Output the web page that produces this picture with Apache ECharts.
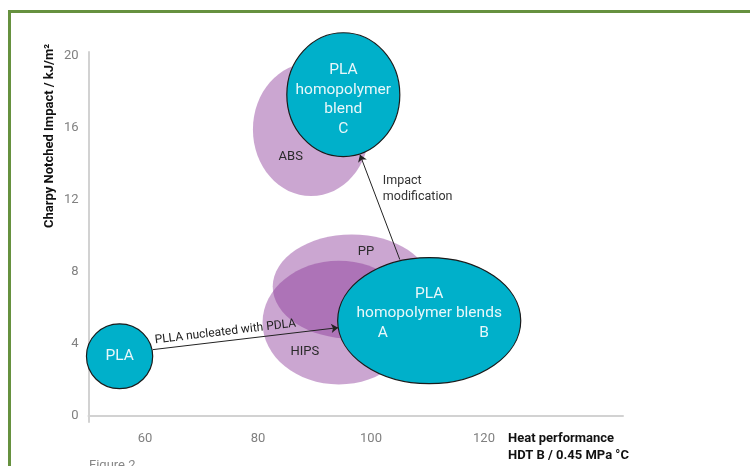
<!DOCTYPE html>
<html>
<head>
<meta charset="utf-8">
<script src="https://cdn.jsdelivr.net/npm/echarts@6/dist/echarts.min.js"></script>
<style>html,body{margin:0;padding:0;background:#fff}#c{width:750px;height:466px}</style>
</head>
<body>
<div id="c"></div>
<script>
// Reference materials (purple)
const materials = ['ABS', 'PP', 'HIPS'];
const matHeat = [89.4, 96.6, 94.3];
const matImpact = [15.9, 7.17, 5.17];
const matSpreadHeat = [10.3, 14.0, 13.5];
const matSpreadImpact = [3.7, 2.9, 3.44];
const matLabelHeat = [85.8, 99.1, 88.3];
const matLabelImpact = [14.4, 9.1, 3.56];

// PLA grades (teal)
const plaGrades = ['PLA', 'PLA\nhomopolymer blends', 'PLA\nhomopolymer\nblend\nC'];
const plaHeat = [55.5, 110.3, 95.1];
const plaImpact = [3.3, 5.28, 17.83];
const plaSpreadHeat = [5.86, 16.2, 10.0];
const plaSpreadImpact = [1.8, 3.5, 3.44];
const plaLabelHeat = [55.5, 110.3, 95.1];
const plaLabelImpact = [3.3, 6.22, 17.55];

// Extra grade letters inside blends ellipse
const gradeLetters = ['A', 'B'];
const letterHeat = [102.1, 120.0];
const letterImpact = [4.6, 4.6];

// Arrows
const arrowNames = ['PLLA nucleated with PDLA', 'Impact modification'];
const arrowFrom = [[61.4, 3.67], [105.1, 8.67]];
const arrowTo = [[94.2, 4.89], [98.05, 14.5]];
const noteHeat = [102.1];
const noteImpact = [12.6];

// Tick labels
const xTicks = [60, 80, 100, 120];
const yTicks = [0, 4, 8, 12, 16, 20];

const FONT = 'Roboto, "Noto Sans", sans-serif';
const chart = echarts.init(document.getElementById('c'));

function ellipseItem(fill, stroke) {
  return function (params, api) {
    const c = api.coord([api.value(0), api.value(1)]);
    const s = api.size([api.value(2), api.value(3)]);
    return {
      type: 'ellipse',
      shape: { cx: c[0], cy: c[1], rx: s[0], ry: s[1] },
      style: { fill: fill, stroke: stroke || null, lineWidth: stroke ? 1.2 : 0 }
    };
  };
}
function textItem(names, color, size, lh) {
  return function (params, api) {
    const c = api.coord([api.value(0), api.value(1)]);
    return {
      type: 'text', x: c[0], y: c[1],
      style: { text: names[params.dataIndex], fill: color, fontSize: size, fontFamily: FONT,
               align: 'center', verticalAlign: 'middle', lineHeight: lh || size + 4 }
    };
  };
}

chart.setOption({
  animation: false,
  grid: { left: 88.5, right: 127, top: 52, bottom: 44 },
  xAxis: {
    type: 'value', min: 50, max: 144.6,
    axisLine: { show: true, lineStyle: { color: '#d2d2d2', width: 2 } },
    axisTick: { show: false },
    splitLine: { show: false },
    axisLabel: { customValues: xTicks, color: '#808080', fontSize: 13, fontFamily: FONT, margin: 10 }
  },
  yAxis: {
    type: 'value', min: -0.35, max: 20.2,
    axisLine: { show: true, lineStyle: { color: '#d2d2d2', width: 2 } },
    axisTick: { show: false },
    splitLine: { show: false },
    axisLabel: { customValues: yTicks, color: '#808080', fontSize: 13, fontFamily: FONT, margin: 10 }
  },
  graphic: [
    { type: 'rect', shape: { x: 9.5, y: 11.5, width: 900, height: 600 },
      style: { fill: 'none', stroke: '#66913f', lineWidth: 3 }, silent: true },
    { type: 'text', x: 50, y: 136, rotation: Math.PI / 2,
      style: { text: 'Charpy Notched Impact / kJ/m²', fill: '#111', fontSize: 13, fontWeight: 'bold',
               fontFamily: FONT, align: 'center', verticalAlign: 'middle' } },
    { type: 'text', x: 508, y: 430,
      style: { text: 'Heat performance\nHDT B / 0.45 MPa °C', fill: '#111', fontSize: 13, fontWeight: 'bold',
               fontFamily: FONT, align: 'left', verticalAlign: 'top', lineHeight: 17 } },
    { type: 'text', x: 89, y: 459,
      style: { text: 'Figure 2', fill: '#888', fontSize: 13, fontFamily: FONT, align: 'left', verticalAlign: 'top' } }
  ],
  series: [
    {
      type: 'custom', name: 'materials', clip: false,
      renderItem: ellipseItem('rgba(137,53,150,0.44)'),
      data: materials.map((m, i) => [matHeat[i], matImpact[i], matSpreadHeat[i], matSpreadImpact[i]])
    },
    {
      type: 'custom', name: 'materialLabels', clip: false,
      renderItem: textItem(materials, '#2a2a2a', 13),
      data: materials.map((m, i) => [matLabelHeat[i], matLabelImpact[i]])
    },
    {
      type: 'lines', coordinateSystem: 'cartesian2d', name: 'nucleation',
      symbol: ['none', 'arrow'], symbolSize: 7,
      lineStyle: { color: '#222', width: 1, opacity: 1 },
      label: { show: true, position: 'insideStartTop', formatter: '{b}', color: '#222', fontSize: 12, fontFamily: FONT, distance: 3 },
      data: [{ name: arrowNames[0], coords: [arrowFrom[0], arrowTo[0]] }]
    },
    {
      type: 'lines', coordinateSystem: 'cartesian2d', name: 'impact',
      symbol: ['none', 'arrow'], symbolSize: 7,
      lineStyle: { color: '#222', width: 1, opacity: 1 },
      data: [{ name: arrowNames[1], coords: [arrowFrom[1], arrowTo[1]] }]
    },
    {
      type: 'custom', name: 'note', clip: false,
      renderItem: function (params, api) {
        const c = api.coord([api.value(0), api.value(1)]);
        return { type: 'text', x: c[0], y: c[1],
          style: { text: 'Impact\nmodification', fill: '#333', fontSize: 12.5, fontFamily: FONT,
                   align: 'left', verticalAlign: 'middle', lineHeight: 16 } };
      },
      data: noteHeat.map((h, i) => [h, noteImpact[i]])
    },
    {
      type: 'custom', name: 'pla', clip: false,
      renderItem: ellipseItem('#00b0ca', '#1b1b1b'),
      data: plaGrades.map((g, i) => [plaHeat[i], plaImpact[i], plaSpreadHeat[i], plaSpreadImpact[i]])
    },
    {
      type: 'custom', name: 'plaLabels', clip: false,
      renderItem: textItem(plaGrades, '#e8f7fa', 15.5, 19.5),
      data: plaGrades.map((g, i) => [plaLabelHeat[i], plaLabelImpact[i]])
    },
    {
      type: 'custom', name: 'letters', clip: false,
      renderItem: textItem(gradeLetters, '#e8f7fa', 15.5),
      data: gradeLetters.map((g, i) => [letterHeat[i], letterImpact[i]])
    }
  ]
});
</script>
</body>
</html>
